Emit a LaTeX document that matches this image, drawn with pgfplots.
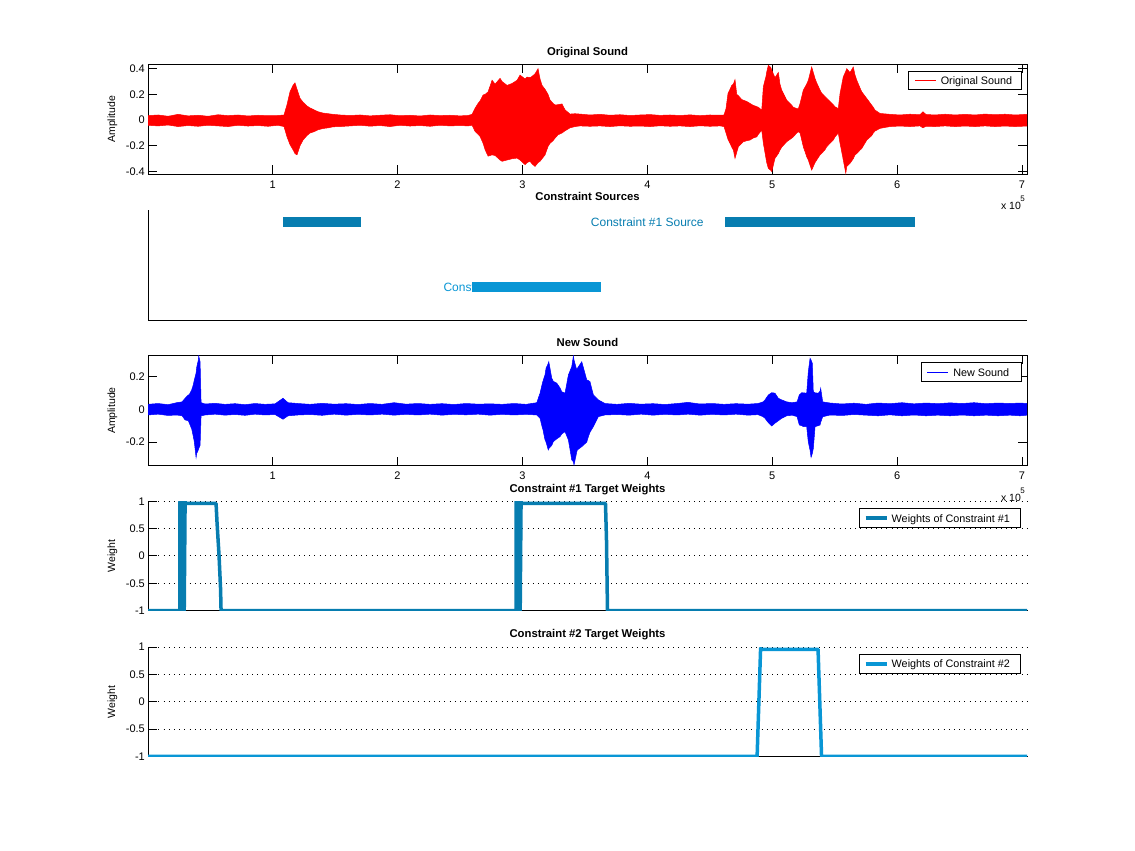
\documentclass[border=0pt]{standalone}
\usepackage{pgfplots}
\pgfplotsset{compat=1.18}
\usepackage{pgfplotstable}
\usepgfplotslibrary{fillbetween}
\usepackage{fontspec}
\setmainfont{Liberation Sans}

\definecolor{wone}{RGB}{7,125,176}
\definecolor{wtwo}{RGB}{9,150,213}

% envelope of the original sound (x in 1e5 samples)
\pgfplotstableread{
x up lo
0.000 0.035 -0.040
0.083 0.040 -0.045
0.163 0.030 -0.038
0.243 0.045 -0.050
0.323 0.033 -0.042
0.403 0.038 -0.048
0.483 0.030 -0.040
0.563 0.042 -0.045
0.643 0.035 -0.050
0.723 0.040 -0.040
0.803 0.032 -0.046
0.883 0.038 -0.042
0.963 0.034 -0.048
1.043 0.036 -0.040
1.091 0.040 -0.050
1.115 0.120 -0.130
1.139 0.220 -0.190
1.163 0.270 -0.230
1.179 0.290 -0.260
1.195 0.240 -0.270
1.219 0.170 -0.200
1.243 0.140 -0.155
1.275 0.110 -0.120
1.299 0.095 -0.100
1.331 0.080 -0.090
1.364 0.065 -0.075
1.404 0.055 -0.065
1.444 0.050 -0.060
1.484 0.045 -0.052
1.540 0.040 -0.050
1.620 0.036 -0.045
1.700 0.040 -0.040
1.780 0.033 -0.047
1.860 0.038 -0.042
1.940 0.042 -0.050
2.020 0.034 -0.040
2.100 0.038 -0.046
2.180 0.032 -0.042
2.260 0.040 -0.048
2.340 0.035 -0.040
2.420 0.038 -0.045
2.500 0.033 -0.042
2.564 0.036 -0.045
2.597 0.045 -0.040
2.621 0.093 -0.088
2.645 0.130 -0.110
2.661 0.150 -0.127
2.685 0.195 -0.180
2.701 0.200 -0.230
2.725 0.220 -0.280
2.757 0.310 -0.270
2.781 0.280 -0.275
2.821 0.325 -0.310
2.837 0.300 -0.320
2.877 0.270 -0.310
2.917 0.285 -0.300
2.957 0.310 -0.295
2.981 0.350 -0.310
3.021 0.320 -0.346
3.037 0.335 -0.330
3.061 0.330 -0.320
3.077 0.340 -0.340
3.101 0.360 -0.360
3.125 0.400 -0.330
3.141 0.320 -0.320
3.157 0.270 -0.300
3.181 0.240 -0.270
3.205 0.200 -0.205
3.221 0.157 -0.180
3.245 0.130 -0.160
3.261 0.118 -0.140
3.285 0.120 -0.114
3.317 0.126 -0.100
3.341 0.080 -0.083
3.381 0.047 -0.060
3.421 0.050 -0.050
3.461 0.047 -0.045
3.541 0.040 -0.048
3.621 0.045 -0.045
3.701 0.038 -0.050
3.781 0.042 -0.044
3.862 0.036 -0.048
3.942 0.040 -0.046
4.022 0.043 -0.050
4.102 0.037 -0.044
4.182 0.040 -0.048
4.262 0.036 -0.045
4.342 0.041 -0.050
4.422 0.035 -0.044
4.502 0.040 -0.048
4.582 0.038 -0.045
4.614 0.040 -0.050
4.630 0.090 -0.100
4.646 0.207 -0.150
4.662 0.240 -0.180
4.676 0.270 -0.210
4.689 0.280 -0.233
4.702 0.315 -0.297
4.716 0.200 -0.250
4.729 0.190 -0.207
4.756 0.160 -0.180
4.769 0.155 -0.168
4.796 0.145 -0.160
4.822 0.130 -0.155
4.846 0.116 -0.140
4.876 0.105 -0.130
4.889 0.100 -0.110
4.916 0.078 -0.078
4.929 0.260 -0.180
4.950 0.340 -0.297
4.956 0.375 -0.330
4.969 0.426 -0.375
4.988 0.410 -0.390
4.996 0.390 -0.400
5.009 0.360 -0.350
5.022 0.330 -0.297
5.049 0.370 -0.260
5.062 0.280 -0.233
5.076 0.233 -0.210
5.116 0.155 -0.168
5.156 0.116 -0.140
5.169 0.100 -0.130
5.196 0.090 -0.100
5.209 0.088 -0.090
5.223 0.130 -0.100
5.249 0.233 -0.207
5.276 0.280 -0.284
5.289 0.310 -0.310
5.316 0.413 -0.388
5.343 0.323 -0.330
5.356 0.290 -0.310
5.383 0.233 -0.270
5.396 0.210 -0.258
5.423 0.183 -0.230
5.436 0.170 -0.207
5.463 0.145 -0.180
5.489 0.120 -0.155
5.503 0.103 -0.130
5.529 0.090 -0.100
5.543 0.207 -0.180
5.569 0.336 -0.310
5.589 0.380 -0.413
5.597 0.400 -0.360
5.623 0.370 -0.336
5.649 0.413 -0.300
5.663 0.350 -0.270
5.677 0.310 -0.260
5.703 0.250 -0.233
5.717 0.220 -0.220
5.757 0.168 -0.155
5.797 0.116 -0.120
5.809 0.100 -0.100
5.823 0.078 -0.085
5.863 0.052 -0.064
5.943 0.045 -0.050
6.023 0.040 -0.046
6.103 0.046 -0.050
6.183 0.042 -0.045
6.207 0.065 -0.060
6.231 0.044 -0.048
6.303 0.040 -0.050
6.384 0.046 -0.045
6.464 0.040 -0.050
6.544 0.045 -0.046
6.624 0.040 -0.050
6.704 0.047 -0.045
6.784 0.042 -0.050
6.864 0.046 -0.046
6.944 0.040 -0.050
7.040 0.045 -0.046
}\origsound

% envelope of the new sound
\pgfplotstableread{
x up lo
0.000 0.030 -0.035
0.083 0.035 -0.030
0.163 0.028 -0.038
0.232 0.040 -0.035
0.275 0.045 -0.040
0.299 0.067 -0.065
0.325 0.087 -0.070
0.333 0.090 -0.085
0.352 0.118 -0.120
0.365 0.150 -0.167
0.373 0.179 -0.200
0.387 0.220 -0.295
0.392 0.256 -0.270
0.405 0.300 -0.248
0.408 0.325 -0.240
0.419 0.290 -0.220
0.427 0.040 -0.040
0.459 0.032 -0.035
0.539 0.036 -0.030
0.619 0.030 -0.036
0.699 0.034 -0.032
0.779 0.028 -0.037
0.859 0.035 -0.030
0.939 0.030 -0.035
1.019 0.033 -0.032
1.083 0.067 -0.061
1.123 0.040 -0.040
1.203 0.035 -0.035
1.299 0.030 -0.032
1.396 0.036 -0.037
1.492 0.031 -0.030
1.588 0.034 -0.036
1.684 0.029 -0.031
1.780 0.035 -0.035
1.876 0.030 -0.030
1.972 0.040 -0.036
2.068 0.031 -0.031
2.164 0.035 -0.035
2.260 0.030 -0.030
2.356 0.034 -0.036
2.452 0.029 -0.031
2.548 0.035 -0.034
2.645 0.031 -0.030
2.741 0.033 -0.036
2.837 0.030 -0.031
2.933 0.035 -0.035
3.029 0.030 -0.031
3.115 0.040 -0.035
3.141 0.098 -0.055
3.157 0.150 -0.106
3.163 0.168 -0.120
3.181 0.210 -0.187
3.189 0.250 -0.200
3.207 0.280 -0.248
3.211 0.290 -0.240
3.235 0.189 -0.220
3.247 0.170 -0.198
3.275 0.159 -0.180
3.301 0.130 -0.167
3.315 0.107 -0.150
3.341 0.098 -0.137
3.368 0.209 -0.187
3.395 0.260 -0.309
3.408 0.325 -0.320
3.413 0.300 -0.340
3.435 0.240 -0.260
3.440 0.250 -0.248
3.475 0.290 -0.228
3.515 0.179 -0.200
3.528 0.175 -0.167
3.541 0.168 -0.140
3.568 0.087 -0.106
3.608 0.057 -0.045
3.661 0.035 -0.035
3.757 0.030 -0.032
3.854 0.036 -0.036
3.950 0.031 -0.030
4.046 0.034 -0.036
4.142 0.029 -0.031
4.238 0.035 -0.035
4.326 0.042 -0.030
4.422 0.032 -0.036
4.518 0.035 -0.031
4.614 0.030 -0.035
4.710 0.034 -0.030
4.806 0.031 -0.036
4.886 0.035 -0.033
4.926 0.045 -0.045
4.942 0.057 -0.055
4.969 0.087 -0.082
4.996 0.101 -0.102
5.022 0.098 -0.085
5.049 0.067 -0.070
5.076 0.057 -0.055
5.116 0.045 -0.040
5.159 0.040 -0.036
5.199 0.045 -0.045
5.217 0.087 -0.096
5.236 0.101 -0.100
5.249 0.100 -0.106
5.276 0.098 -0.106
5.289 0.229 -0.200
5.303 0.311 -0.250
5.311 0.300 -0.293
5.321 0.280 -0.270
5.329 0.107 -0.240
5.343 0.100 -0.106
5.369 0.098 -0.100
5.383 0.110 -0.096
5.388 0.128 -0.080
5.404 0.045 -0.046
5.463 0.038 -0.035
5.559 0.032 -0.038
5.655 0.037 -0.032
5.751 0.030 -0.036
5.847 0.038 -0.040
5.943 0.034 -0.034
6.039 0.040 -0.040
6.135 0.033 -0.035
6.231 0.038 -0.040
6.327 0.034 -0.036
6.424 0.039 -0.040
6.520 0.035 -0.035
6.616 0.040 -0.040
6.712 0.034 -0.036
6.808 0.038 -0.040
6.904 0.035 -0.036
6.984 0.038 -0.040
7.040 0.035 -0.036
}\newsound

\pgfplotstableread{
x w
0.000 -1
0.258 -1
0.258 1
0.271 -1
0.285 1
0.292 -1
0.299 1
0.301 0.96
0.547 0.96
0.555 0.60
0.571 0.00
0.583 -0.60
0.587 -1
2.949 -1
2.949 1
2.962 -1
2.975 1
2.982 -1
2.989 1
2.991 0.96
3.665 0.96
3.673 0.30
3.681 -1
7.040 -1
}\weightsone

\pgfplotstableread{
x w
0.000 -1
4.879 -1
4.907 0.98
4.912 0.96
5.367 0.96
5.395 -1
7.040 -1
}\weightstwo

\tikzset{
  xexp/.style={anchor=base east, inner sep=0pt, xshift=-2bp, yshift=-35.7bp,
    font=\fontsize{10.5bp}{12bp}\selectfont},
}
\newcommand{\xtimes}{x 10\kern-0.5bp\raisebox{8.5bp}{\fontsize{8bp}{9bp}\selectfont 5}}

\pgfplotsset{
  matlab/.style={
    scale only axis, width=879bp,
    xmin=0.002, xmax=7.04,
    clip mode=individual,
    axis line style={line width=1bp},
    tick style={black, line width=1bp},
    major tick length=8.8bp,
    tick align=inside,
    tick label style={font=\fontsize{11bp}{13bp}\selectfont},
    /pgf/number format/assume math mode=true,
    xticklabel style={inner sep=0pt, yshift=-6bp},
    yticklabel style={inner sep=0pt, xshift=-3bp},
    every axis title shift=0pt,
    title style={at={(axis description cs:0.5,1)}, anchor=base, yshift=9.25bp,
      font=\bfseries\fontsize{11.3bp}{13bp}\selectfont},
    every axis y label/.style={at={(axis description cs:-0.0404,0.5)}, anchor=center,
      rotate=90, font=\fontsize{10.5bp}{12bp}\selectfont},
    legend style={at={(axis description cs:1,1)}, anchor=north east,
      inner sep=0pt, line width=1bp, font=\fontsize{10.8bp}{12bp}\selectfont,
      nodes={inner sep=0pt, text depth=0pt}, cells={anchor=west}},
    legend image code/.code={\path[draw=none, fill=none] (0bp,-9.3bp) rectangle (32bp,9.3bp);
      \draw[##1] (6bp,0bp) -- (27bp,0bp);},
    every outer x axis line/.append style={-},
    every outer y axis line/.append style={-},
  },
  weights/.style={
    matlab, height=109.4bp, ymin=-1, ymax=1,
    xtick=\empty, ytick={-1,-0.5,0,0.5,1},
    axis x line*=bottom, axis y line*=left,
    ymajorgrids, major grid style={black, line width=1bp, dash pattern=on 1bp off 4.2bp},
    ylabel={Weight},
  },
}

\begin{document}
\begin{tikzpicture}
\path (0bp,0bp) rectangle (1135bp,851bp);

% 1: original sound
\begin{axis}[matlab, at={(148bp,676.7bp)}, anchor=south west, height=110bp,
  ymin=-0.421, ymax=0.434, xtick={1,2,3,4,5,6,7}, ytick={-0.4,-0.2,0,0.2,0.4},
  title={Original Sound}, ylabel={Amplitude},
  legend style={xshift=-5.3bp, yshift=-6.4bp}]
\addplot[name path=u1, draw=red, line width=0.5bp, forget plot] table[x=x, y=up] {\origsound};
\addplot[name path=l1, draw=red, line width=0.5bp, forget plot] table[x=x, y=lo] {\origsound};
\addplot[fill=red, draw=none, forget plot] fill between[of=u1 and l1];
\addlegendimage{red, line width=1bp}
\addlegendentry{Original Sound\rule{9bp}{0pt}}
\node[xexp] at (axis description cs:1,0) {\xtimes};
\end{axis}

% 2: constraint sources
\begin{axis}[matlab, at={(148bp,530.7bp)}, anchor=south west, height=110.3bp,
  ymin=0.49, ymax=2.185, xtick=\empty, ytick=\empty,
  axis x line*=bottom, axis y line*=left, title={Constraint Sources}]
\addplot[wone, line width=10bp] coordinates {(1.0833,2) (1.7078,2)};
\addplot[wone, line width=10bp] coordinates {(4.6221,2) (6.1433,2)};
\node[anchor=west, inner sep=0pt, text=wone, font=\fontsize{12bp}{14bp}\selectfont]
  at (axis cs:3.5468,2) {Constraint \#1 Source};
\node[anchor=west, inner sep=0pt, text=wtwo, font=\fontsize{12bp}{14bp}\selectfont]
  at (axis cs:2.3667,1) {Constraint \#2 Source};
\addplot[wtwo, line width=10bp] coordinates {(2.5965,1) (3.6293,1)};
\end{axis}

% 3: new sound
\begin{axis}[matlab, at={(148bp,385bp)}, anchor=south west, height=110.7bp,
  ymin=-0.346, ymax=0.329, xtick={1,2,3,4,5,6,7}, ytick={-0.2,0,0.2},
  title={New Sound}, ylabel={Amplitude},
  legend style={xshift=-5.3bp, yshift=-7bp}]
\addplot[name path=u3, draw=blue, line width=0.5bp, forget plot] table[x=x, y=up] {\newsound};
\addplot[name path=l3, draw=blue, line width=0.5bp, forget plot] table[x=x, y=lo] {\newsound};
\addplot[fill=blue, draw=none, forget plot] fill between[of=u3 and l3];
\addlegendimage{blue, line width=1bp}
\addlegendentry{New Sound\rule{12bp}{0pt}}
\node[xexp] at (axis description cs:1,0) {\xtimes};
\end{axis}

% 4: constraint 1 weights
\begin{axis}[weights, at={(148bp,240.3bp)}, anchor=south west,
  title={Constraint \#1 Target Weights},
  legend style={xshift=-5.7bp, yshift=-7bp}]
\addplot[wone, line width=3.5bp, line join=round] table[x=x, y=w] {\weightsone};
\addlegendentry{Weights of Constraint \#1\rule{11bp}{0pt}}
\end{axis}

% 5: constraint 2 weights
\begin{axis}[weights, at={(148bp,94.5bp)}, anchor=south west,
  title={Constraint \#2 Target Weights},
  legend style={xshift=-5.7bp, yshift=-7bp}]
\addplot[wtwo, line width=3.5bp, line join=round] table[x=x, y=w] {\weightstwo};
\addlegendentry{Weights of Constraint \#2\rule{11bp}{0pt}}
\end{axis}
\end{tikzpicture}
\end{document}
